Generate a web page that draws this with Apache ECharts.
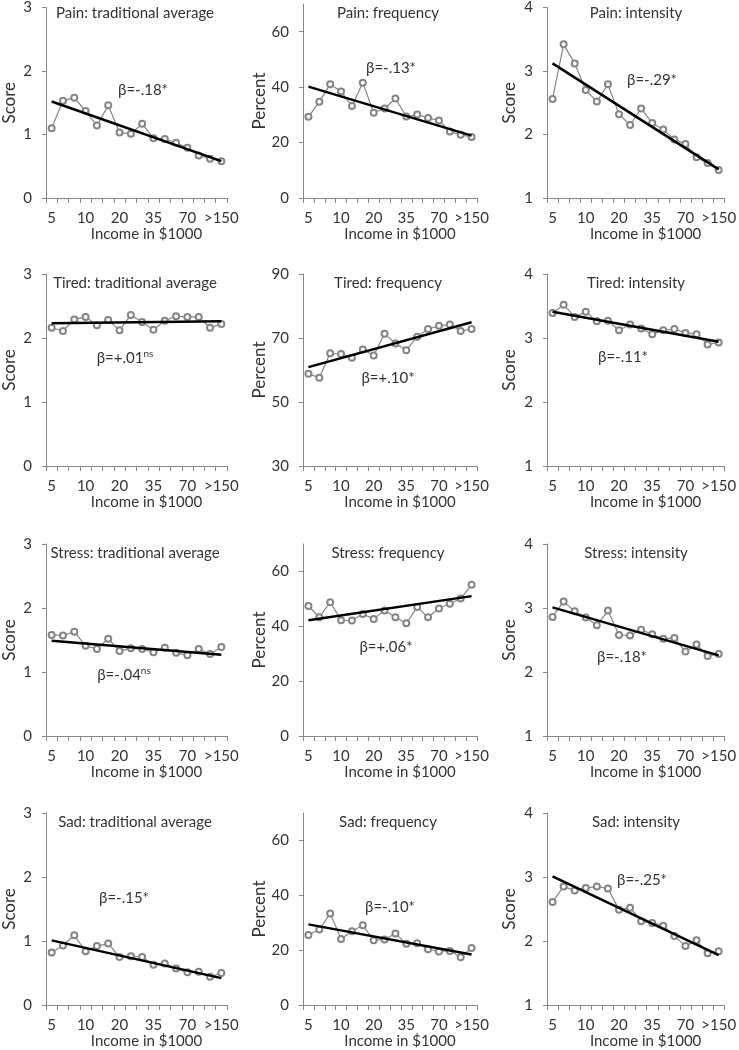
<!DOCTYPE html>
<html>
<head>
<meta charset="utf-8">
<style>
  html, body { margin: 0; padding: 0; background: #fff; }
  #chart { width: 739px; height: 1050px; }
</style>
<script src="https://cdn.jsdelivr.net/npm/echarts@6/dist/echarts.min.js"></script>
</head>
<body>
<div id="chart"></div>
<script>
// ---------------- DATA ----------------
const categories = ['5','7.5','9','10','12.5','15','20','25','30','35','40','50','70','90','120','>150'];
const xAxisName = 'Income in $1000';

const painAvg    = [1.10,1.53,1.58,1.37,1.14,1.46,1.03,1.01,1.17,0.94,0.93,0.87,0.79,0.67,0.62,0.58];
const painAvgFit = [1.52,0.58];
const painFreq    = [29.3,34.7,41.0,38.4,33.2,41.6,30.8,32.3,35.9,29.4,30.1,28.9,28.0,24.0,22.8,22.0];
const painFreqFit = [40.2,22.5];
const painInt    = [2.56,3.42,3.12,2.70,2.52,2.79,2.32,2.15,2.41,2.18,2.08,1.92,1.85,1.64,1.55,1.44];
const painIntFit = [3.12,1.45];

const tiredAvg    = [2.16,2.11,2.29,2.33,2.20,2.28,2.12,2.36,2.25,2.13,2.27,2.34,2.33,2.33,2.16,2.22];
const tiredAvgFit = [2.23,2.26];
const tiredFreq    = [58.8,57.6,65.2,65.0,63.8,66.4,64.5,71.3,68.3,66.2,70.4,72.8,73.8,74.2,72.2,72.8];
const tiredFreqFit = [60.9,74.9];
const tiredInt    = [3.39,3.52,3.33,3.41,3.26,3.27,3.12,3.21,3.15,3.06,3.12,3.14,3.08,3.06,2.90,2.93];
const tiredIntFit = [3.41,2.94];

const stressAvg    = [1.58,1.57,1.63,1.41,1.36,1.52,1.33,1.37,1.36,1.31,1.38,1.30,1.26,1.36,1.28,1.39];
const stressAvgFit = [1.49,1.27];
const stressFreq    = [47.4,43.3,48.8,42.2,42.1,44.5,42.7,45.8,43.3,41.1,47.0,43.3,46.5,48.2,50.1,55.1];
const stressFreqFit = [42.2,51.0];
const stressInt    = [2.86,3.10,2.95,2.85,2.73,2.96,2.58,2.57,2.66,2.59,2.52,2.53,2.32,2.43,2.25,2.28];
const stressIntFit = [3.01,2.26];

const sadAvg    = [0.82,0.93,1.09,0.84,0.92,0.96,0.75,0.76,0.75,0.63,0.65,0.57,0.51,0.52,0.44,0.50];
const sadAvgFit = [1.01,0.42];
const sadFreq    = [25.5,27.5,33.4,24.1,26.9,29.1,23.6,23.9,26.1,22.3,22.5,20.3,19.5,19.7,17.4,20.8];
const sadFreqFit = [29.4,18.4];
const sadInt    = [2.61,2.85,2.79,2.83,2.85,2.82,2.49,2.52,2.31,2.28,2.24,2.08,1.92,2.01,1.81,1.84];
const sadIntFit = [3.01,1.78];

const panelTitles = [
  'Pain: traditional average','Pain: frequency','Pain: intensity',
  'Tired: traditional average','Tired: frequency','Tired: intensity',
  'Stress: traditional average','Stress: frequency','Stress: intensity',
  'Sad: traditional average','Sad: frequency','Sad: intensity'
];
const betaTexts = ['β=-.18','β=-.13','β=-.29','β=+.01','β=+.10','β=-.11','β=-.04','β=+.06','β=-.18','β=-.15','β=-.10','β=-.25'];
const betaSups  = ['*','*','*','ns','*','*','ns','*','*','*','*','*'];

const seriesValues = [painAvg,painFreq,painInt,tiredAvg,tiredFreq,tiredInt,stressAvg,stressFreq,stressInt,sadAvg,sadFreq,sadInt];
const fitValues = [painAvgFit,painFreqFit,painIntFit,tiredAvgFit,tiredFreqFit,tiredIntFit,stressAvgFit,stressFreqFit,stressIntFit,sadAvgFit,sadFreqFit,sadIntFit];

// y-axis scales per panel: [min, max, interval, ticks, name]
const scoreAvgTicks = [0,1,2,3];
const intensityTicks = [1,2,3,4];
const percentTicks = [0,20,40,60];
const tiredFreqTicks = [30,50,70,90];
const yScales = [
  [0,3,1,scoreAvgTicks,'Score'],[0,70,20,percentTicks,'Percent'],[1,4,1,intensityTicks,'Score'],
  [0,3,1,scoreAvgTicks,'Score'],[30,90,20,tiredFreqTicks,'Percent'],[1,4,1,intensityTicks,'Score'],
  [0,3,1,scoreAvgTicks,'Score'],[0,70,20,percentTicks,'Percent'],[1,4,1,intensityTicks,'Score'],
  [0,3,1,scoreAvgTicks,'Score'],[0,70,20,percentTicks,'Percent'],[1,4,1,intensityTicks,'Score']
];

// ---------------- LAYOUT ----------------
const cols = [{left:44,width:183,nameGap:28,titleX:135},{left:303,width:174,nameGap:32,titleX:388},{left:547,width:180,nameGap:29,titleX:636}];
const rows = [{top:4,height:194},{top:274,height:192},{top:544,height:192},{top:813,height:193}];
const betaPos = [[143,90],[391,68],[652,80],[125,358],[388,378],[623,357],[124,675],[386,647],[622,657],[124,898],[390,907],[642,880]];

const FONT = 'Lato';
const TEXT = '#333333';
const AXIS = '#868686';
const GRAYLINE = '#858585';

const grid = [], xAxis = [], yAxis = [], series = [], graphic = [];
for (let i = 0; i < 12; i++) {
  const c = cols[i % 3], r = rows[Math.floor(i / 3)];
  const [ymin, ymax, yint, yticks, yname] = yScales[i];
  grid.push({left: c.left, top: r.top, width: c.width, height: r.height});
  xAxis.push({
    type: 'category', gridIndex: i, data: categories, boundaryGap: true,
    name: xAxisName, nameLocation: 'middle', nameGap: 29,
    nameTextStyle: {fontFamily: FONT, fontSize: 15, color: TEXT, padding: [0,0,0,20]},
    axisLine: {lineStyle: {color: AXIS, width: 1}},
    axisTick: {show: true, interval: 0, length: 5, lineStyle: {color: AXIS}},
    axisLabel: {interval: 2, margin: 13, fontFamily: FONT, fontSize: 15, color: TEXT},
    splitLine: {show: false}
  });
  yAxis.push({
    type: 'value', gridIndex: i, min: ymin, max: ymax, interval: yint,
    name: yname, nameLocation: 'middle', nameGap: c.nameGap,
    nameTextStyle: {fontFamily: FONT, fontSize: 17, color: TEXT},
    axisLine: {show: true, lineStyle: {color: AXIS, width: 1}},
    axisTick: {show: true, length: 4, lineStyle: {color: AXIS}, customValues: yticks},
    axisLabel: {margin: 14, fontFamily: FONT, fontSize: 15, color: TEXT, customValues: yticks},
    splitLine: {show: false}
  });
  series.push({
    type: 'line', xAxisIndex: i, yAxisIndex: i, data: seriesValues[i],
    symbol: 'emptyCircle', symbolSize: 6, showSymbol: true,
    lineStyle: {color: GRAYLINE, width: 1.2},
    itemStyle: {color: GRAYLINE, borderColor: GRAYLINE, borderWidth: 0.9},
    silent: true, animation: false, z: 2
  });
  series.push({
    type: 'line', xAxisIndex: i, yAxisIndex: i,
    data: [[0, fitValues[i][0]], [categories.length - 1, fitValues[i][1]]],
    symbol: 'none', lineStyle: {color: '#000', width: 2.5},
    silent: true, animation: false, z: 3
  });
  graphic.push({
    type: 'text', x: c.titleX, y: r.top + 9, z: 10,
    style: {text: panelTitles[i], align: 'center', verticalAlign: 'middle',
            fontFamily: FONT, fontSize: 15, fill: TEXT}
  });
  graphic.push({
    type: 'text', x: betaPos[i][0], y: betaPos[i][1], z: 10,
    style: {
      text: '{a|' + betaTexts[i] + '}' + (betaSups[i] === 'ns' ? '{s|ns}' : '{a|*}'),
      align: 'center', verticalAlign: 'middle', fill: TEXT,
      fontFamily: FONT, fontSize: 15,
      rich: {
        a: {fontFamily: FONT, fontSize: 15, fill: TEXT, color: TEXT, lineHeight: 18},
        s: {fontFamily: FONT, fontSize: 10, fill: TEXT, color: TEXT, verticalAlign: 'top', lineHeight: 18, padding: [0,0,8,0]}
      }
    }
  });
}

const chart = echarts.init(document.getElementById('chart'), null, {renderer: 'canvas'});
chart.setOption({
  backgroundColor: '#fff',
  animation: false,
  grid, xAxis, yAxis, series, graphic
});
</script>
</body>
</html>
